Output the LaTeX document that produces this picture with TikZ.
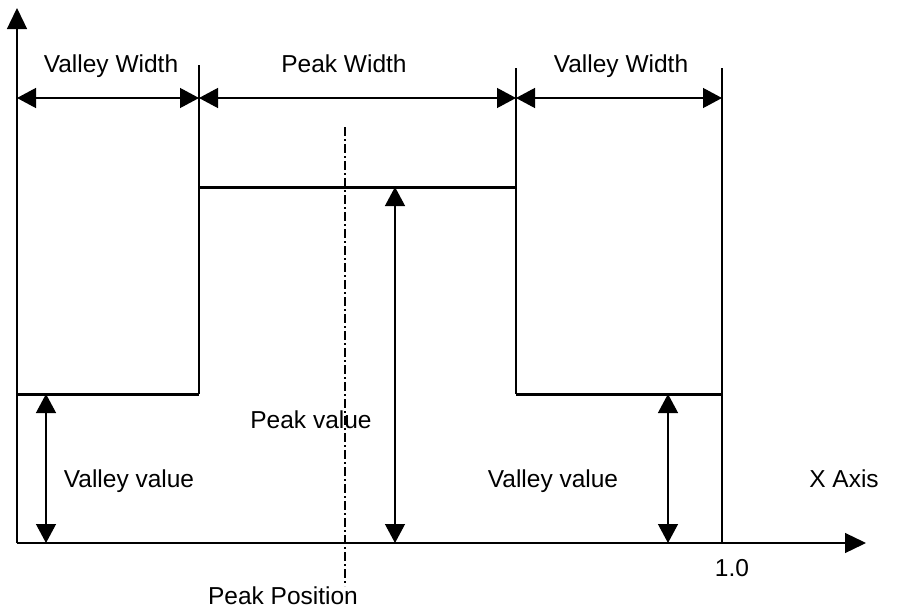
\documentclass[tikz,border=0pt]{standalone}
\usepackage{fontspec}
\setmainfont{Liberation Sans}
\usetikzlibrary{arrows.meta}
\begin{document}
\begin{tikzpicture}[x=1pt,y=-1pt,
  thin line/.style={line width=1.3pt},
  level/.style={line width=3pt},
  dim/.style={line width=1.3pt,{Triangle[length=19pt,width=20pt]}-{Triangle[length=19pt,width=20pt]}},
  axisarrow/.style={line width=1.3pt,-{Triangle[length=21pt,width=20pt]}},
  lbl/.style={font=\fontsize{24.5}{29}\selectfont,anchor=base,inner sep=0pt}]
\useasboundingbox (0,0) rectangle (898,608);
% key points
\coordinate (O) at (17,543);
\coordinate (ytip) at (17,8);
\coordinate (xtip) at (866,543);
\coordinate (v1) at (17,394);
\coordinate (v1r) at (199,394);
\coordinate (s1top) at (199,65);
\coordinate (p1) at (199,187);
\coordinate (p2) at (516,187);
\coordinate (s2top) at (516,68);
\coordinate (v2l) at (516,394);
\coordinate (v2) at (722,394);
\coordinate (s3top) at (722,68);
\coordinate (s3bot) at (722,543);
\coordinate (dwA) at (17,98);
\coordinate (dwB) at (199,98);
\coordinate (dwC) at (516,98);
\coordinate (dwD) at (722,98);
\coordinate (dtop) at (345,127);
\coordinate (dbot) at (345,586);
\coordinate (pvT) at (395,187);
\coordinate (pvB) at (395,543);
\coordinate (lvT) at (46,394);
\coordinate (lvB) at (46,543);
\coordinate (rvT) at (668,394);
\coordinate (rvB) at (668,543);
% axes
\draw[axisarrow] (O) -- (ytip);
\draw[axisarrow] (O) -- (xtip);
% step profile
\draw[thin line] (s1top) -- (v1r);
\draw[thin line] (s2top) -- (v2l);
\draw[thin line] (s3top) -- (s3bot);
\draw[level] (v1) -- (v1r);
\draw[level] (p1) -- (p2);
\draw[level] (v2l) -- (v2);
% dimension arrows
\draw[dim] (dwA) -- (dwB);
\draw[dim] (dwB) -- (dwC);
\draw[dim] (dwC) -- (dwD);
\draw[dim] (pvT) -- (pvB);
\draw[dim] (lvT) -- (lvB);
\draw[dim] (rvT) -- (rvB);
% peak position line
\draw[line width=1.2pt,dash pattern=on 9pt off 3pt on 2pt off 3pt] (dtop) -- (dbot);
% labels
\node[lbl] (vw1) at (111,72) {Valley Width};
\node[lbl] (pw) at (344,72) {Peak Width};
\node[lbl] (vw2) at (621,72) {Valley Width};
\node[lbl] (pv) at (311,428) {Peak value};
\node[lbl] (vv1) at (129,487) {Valley value};
\node[lbl] (vv2) at (553,487) {Valley value};
\node[lbl] (xa) at (844,487) {X Axis};
\node[lbl] (one) at (732,576) {1.0};
\node[lbl] (pp) at (283,604) {Peak Position};
\end{tikzpicture}
\end{document}
